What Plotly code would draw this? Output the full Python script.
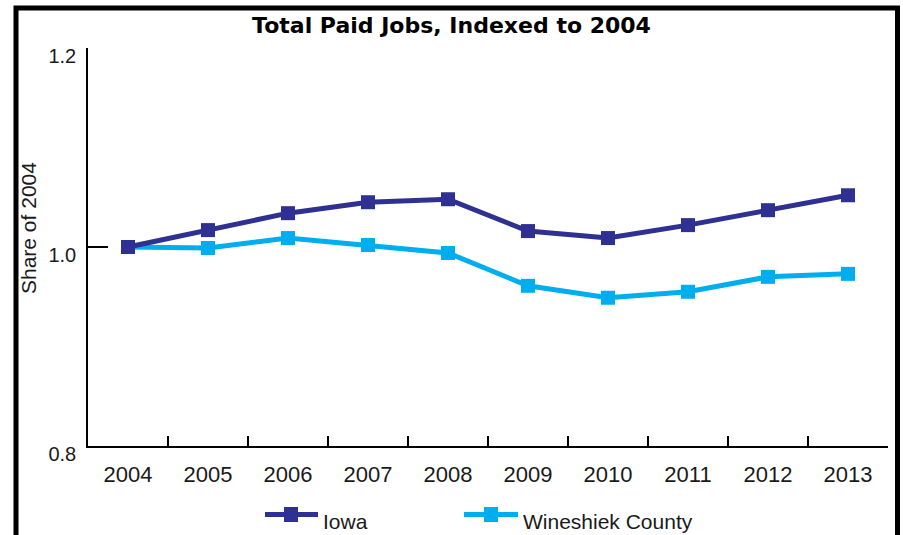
import plotly.graph_objects as go

# Total paid jobs, each series indexed to its 2004 level
years = ["2004", "2005", "2006", "2007", "2008", "2009", "2010", "2011", "2012", "2013"]
iowa = [1.000, 1.017, 1.034, 1.045, 1.048, 1.016, 1.009, 1.022, 1.037, 1.052]
wineshiek = [1.000, 0.999, 1.009, 1.002, 0.994, 0.961, 0.949, 0.955, 0.970, 0.973]

y_ticks = [0.8, 1.0, 1.2]
y_tick_text = ["0.8", "1.0", "1.2"]

series_names = ["Iowa", "Wineshiek County"]
IOWA_COLOR = "#2E3192"
WINE_COLOR = "#00AEEF"

TICK_FONT = "Liberation Sans, Arial, sans-serif"

fig = go.Figure()

# Draw the county first so the state line sits on top where they meet
fig.add_trace(go.Scatter(
    x=years, y=wineshiek, name=series_names[1], mode="lines+markers",
    line=dict(color=WINE_COLOR, width=5),
    marker=dict(symbol="square", size=14, color=WINE_COLOR),
    showlegend=False,
))
fig.add_trace(go.Scatter(
    x=years, y=iowa, name=series_names[0], mode="lines+markers",
    line=dict(color=IOWA_COLOR, width=5),
    marker=dict(symbol="square", size=14, color=IOWA_COLOR),
    showlegend=False,
))

# Plot area geometry (px) used to place frame and legend in paper units
L, R, T, B = 88, 15, 48, 89
W, H = 903, 535
PW, PH = W - L - R, H - T - B


def px_x(x):
    return (x - L) / PW


def px_y(y):
    return 1 - (y - T) / PH


shapes = []
annotations = []

# Outer frame around the whole graphic
shapes.append(dict(
    type="rect", xref="paper", yref="paper",
    x0=px_x(16), x1=px_x(897.5), y0=px_y(538), y1=px_y(8),
    line=dict(color="black", width=5), fillcolor="rgba(0,0,0,0)", layer="above",
))

# Legend row: line sample, square marker, label
legend_items = [
    (series_names[0], IOWA_COLOR, 265, 318, 291, 321),
    (series_names[1], WINE_COLOR, 464, 518, 491, 521),
]
ly = px_y(514.5)
for name, color, lx0, lx1, mx, tx in legend_items:
    shapes.append(dict(
        type="line", xref="paper", yref="paper",
        x0=px_x(lx0), x1=px_x(lx1), y0=ly, y1=ly,
        line=dict(color=color, width=5),
    ))
    shapes.append(dict(
        type="rect", xref="paper", yref="paper",
        xsizemode="pixel", ysizemode="pixel",
        xanchor=px_x(mx), yanchor=ly,
        x0=-7, x1=7, y0=-7.5, y1=7.5,
        line=dict(width=0), fillcolor=color,
    ))
    annotations.append(dict(
        text=name, xref="paper", yref="paper",
        x=px_x(tx), y=px_y(521), xanchor="left", yanchor="middle",
        showarrow=False, font=dict(family=TICK_FONT, size=21, color="#1a1a1a"),
    ))

# Vertical axis title
annotations.append(dict(
    text="Share of 2004", xref="paper", yref="paper",
    x=px_x(29), y=px_y(228), xanchor="center", yanchor="middle",
    textangle=-90, showarrow=False,
    font=dict(family=TICK_FONT, size=21, color="#1a1a1a"),
))

fig.update_layout(
    width=W, height=H,
    margin=dict(l=L, r=R, t=T, b=B, pad=0),
    paper_bgcolor="white", plot_bgcolor="white",
    title=dict(
        text="<b>Total Paid Jobs, Indexed to 2004</b>",
        x=0.5, xref="container", xanchor="center",
        y=1 - 25 / H, yref="container", yanchor="middle",
        font=dict(family="DejaVu Sans, sans-serif", size=22, color="black"),
    ),
    xaxis=dict(
        type="category", range=[-0.5, len(years) - 0.5],
        showline=True, linecolor="black", linewidth=1.5,
        ticks="inside", tickson="boundaries", ticklen=10, tickwidth=1.5, tickcolor="black",
        showgrid=False, zeroline=False,
        tickfont=dict(family=TICK_FONT, size=22, color="#1a1a1a"),
        ticklabelstandoff=8,
    ),
    yaxis=dict(
        range=[0.8, 1.2], tickvals=y_ticks, ticktext=y_tick_text,
        showline=True, linecolor="black", linewidth=1.5,
        ticks="inside", ticklen=20, tickwidth=1.5, tickcolor="black",
        showgrid=False, zeroline=False,
        tickfont=dict(family=TICK_FONT, size=20, color="#1a1a1a"),
        ticklabelstandoff=6, ticklabelshift=8,
    ),
    shapes=shapes,
    annotations=annotations,
)

fig.write_html("out.html")
